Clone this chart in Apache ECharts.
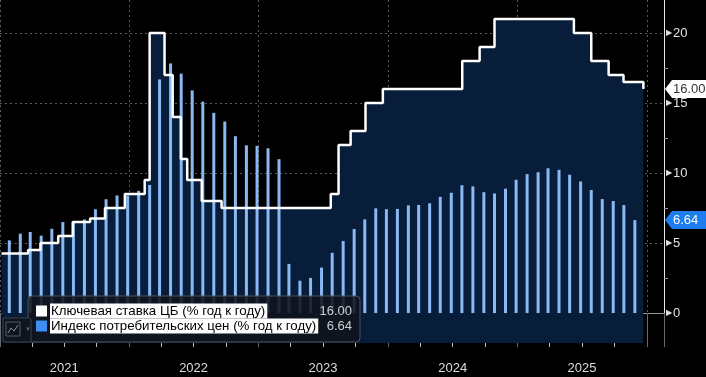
<!DOCTYPE html>
<html>
<head>
<meta charset="utf-8">
<script src="https://cdn.jsdelivr.net/npm/echarts@6/dist/echarts.min.js"></script>
<style>
html, body { margin: 0; padding: 0; background: #000; }
#chart { width: 706px; height: 377px; }
</style>
</head>
<body>
<div id="chart"></div>
<script>
// CPI, % y/y, monthly from Jan 2021
var cpiStartYear = 2021;
var cpiValues = [
  5.19, 5.67, 5.79, 5.53, 6.02, 6.50, 6.46, 6.68, 7.41, 8.13, 8.40, 8.39,
  8.73, 9.15, 16.69, 17.83, 17.10, 15.90, 15.10, 14.30, 13.68, 12.63, 11.98, 11.94,
  11.77, 10.99, 3.51, 2.31, 2.51, 3.25, 4.30, 5.15, 6.00, 6.69, 7.48, 7.42,
  7.44, 7.69, 7.72, 7.84, 8.30, 8.59, 9.13, 9.05, 8.63, 8.54, 8.88, 9.52,
  9.92, 10.06, 10.34, 10.23, 9.88, 9.40, 8.79, 8.14, 8.00, 7.71, 6.64
];
// key rate decisions
var rateDates = [
  '2021-01-06', '2021-03-22', '2021-04-26', '2021-06-15', '2021-07-26', '2021-09-13',
  '2021-10-25', '2021-12-20', '2022-02-14', '2022-02-28', '2022-04-11', '2022-05-04',
  '2022-05-27', '2022-06-14', '2022-07-25', '2022-09-19', '2023-07-24', '2023-08-15',
  '2023-09-18', '2023-10-30', '2023-12-18', '2024-07-29', '2024-09-16', '2024-10-28',
  '2025-06-09', '2025-07-28', '2025-09-15', '2025-10-27', '2025-12-22'
];
var rateValues = [
  4.25, 4.50, 5.00, 5.50, 6.50, 6.75,
  7.50, 8.50, 9.50, 20.00, 17.00, 14.00,
  11.00, 9.50, 8.00, 7.50, 8.50, 12.00,
  13.00, 15.00, 16.00, 18.00, 19.00, 21.00,
  20.00, 18.00, 17.00, 16.50, 16.00
];
var yearLabels = ['2021', '2022', '2023', '2024', '2025'];
var yTicks = [0, 5, 10, 15, 20];
var legendNames = ['Ключевая ставка ЦБ (% год к году)', 'Индекс потребительских цен (% год к году)'];

var FONT = 'Liberation Sans';
var AREA = '#071d3a';
var BAR = '#8ab8f2';
var TAGBLUE = '#1c7ef0';

function parseDate(s) {
  var p = s.split('-');
  return new Date(+p[0], +p[1] - 1, +p[2]).getTime();
}

var cpiData = cpiValues.map(function (v, i) {
  return [new Date(cpiStartYear, i, 28).getTime(), v];
});
var rateData = rateDates.map(function (d, i) {
  return [parseDate(d), rateValues[i]];
});

var myChart = echarts.init(document.getElementById('chart'));
myChart.setOption({
  backgroundColor: '#000',
  animation: false,
  textStyle: { fontFamily: FONT },
  grid: { left: 0, right: 42, top: 0, bottom: 34 },
  xAxis: {
    type: 'time',
    min: parseDate('2021-01-06'),
    max: parseDate('2026-02-14'),
    minInterval: 365 * 864e5,
    maxInterval: 366 * 864e5,
    axisLine: { show: true, lineStyle: { color: '#9a9a9a', width: 1 } },
    axisTick: { show: true, length: 34, lineStyle: { color: '#6a6a6a' } },
    axisLabel: { show: false },
    splitLine: { show: true, lineStyle: { color: '#5a5a5a', type: [2, 3] } }
  },
  yAxis: {
    type: 'value',
    position: 'right',
    min: -2.14,
    max: 22.36,
    splitNumber: 5,
    axisLine: { show: true, lineStyle: { color: '#e8e8e8', width: 1 } },
    axisTick: { show: false },
    minorTick: { show: true, splitNumber: 2, length: 4, lineStyle: { color: '#999' } },
    showMinLabel: false,
    showMaxLabel: false,
    axisLabel: {
      margin: 2,
      color: '#e0e0e0',
      fontSize: 13,
      formatter: function (v) {
        return yTicks.indexOf(v) >= 0 ? '{t|▶}' + v : '';
      },
      rich: { t: { fontSize: 8, color: '#e0e0e0', padding: [0, 1, 0, 0] } }
    },
    splitLine: {
      show: true,
      showMinLine: false,
      showMaxLine: false,
      lineStyle: { color: '#5a5a5a', type: [2, 3] }
    }
  },
  series: [
    {
      name: 'area',
      type: 'line',
      step: 'end',
      data: rateData,
      symbol: 'none',
      lineStyle: { width: 0, opacity: 0 },
      areaStyle: { color: AREA, opacity: 1, origin: 'start' },
      z: 1
    },
    {
      name: legendNames[1],
      type: 'bar',
      data: cpiData,
      barWidth: 3,
      itemStyle: { color: BAR },
      z: 2
    },
    {
      name: legendNames[0],
      type: 'line',
      step: 'end',
      data: rateData,
      symbol: 'none',
      lineStyle: { color: '#fff', width: 2.5 },
      z: 3
    }
  ]
});

// overlays placed through the chart's own scales
var graphics = [];
var axisY = myChart.convertToPixel({ yAxisIndex: 0 }, -2.14);
yearLabels.forEach(function (y) {
  var px = myChart.convertToPixel({ xAxisIndex: 0 }, new Date(+y, 6, 2).getTime());
  graphics.push({
    type: 'text', x: px, y: 368, z: 10,
    style: { text: y, fill: '#dcdcdc', font: '13px ' + FONT, textAlign: 'center', textVerticalAlign: 'middle' }
  });
  // quarter ticks
  [3, 6, 9].forEach(function (m) {
    var qx = Math.round(myChart.convertToPixel({ xAxisIndex: 0 }, new Date(+y, m, 1).getTime())) + 0.5;
    graphics.push({
      type: 'line', z: 10,
      shape: { x1: qx, y1: axisY, x2: qx, y2: axisY + 4 },
      style: { stroke: '#bbb', lineWidth: 1 }
    });
  });
});

function tag(value, text, bg, fg) {
  var cy = myChart.convertToPixel({ yAxisIndex: 0 }, value);
  var tip = 665;
  graphics.push({
    type: 'polygon', z: 20,
    shape: { points: [[tip, cy], [tip + 7, cy - 9], [706, cy - 9], [706, cy + 9], [tip + 7, cy + 9]] },
    style: { fill: bg }
  });
  graphics.push({
    type: 'text', x: 673, y: cy, z: 21,
    style: { text: text, fill: fg, font: '13px ' + FONT, textVerticalAlign: 'middle' }
  });
}
var lastRate = rateValues[rateValues.length - 1];
var lastCpi = cpiValues[cpiValues.length - 1];
tag(lastRate, lastRate.toFixed(2), '#fff', '#333');
tag(lastCpi, lastCpi.toFixed(2), TAGBLUE, '#fff');

// legend box
graphics.push({
  type: 'rect', z: 30,
  shape: { x: 28, y: 296, width: 332, height: 46, r: 4 },
  style: { fill: 'rgba(16,20,28,0.88)', stroke: '#4c525c', lineWidth: 1 }
});
graphics.push({
  type: 'rect', z: 30,
  shape: { x: 3, y: 318, width: 28, height: 24, r: 2 },
  style: { fill: 'rgba(16,20,28,0.95)', stroke: '#3c424c', lineWidth: 1 }
});
graphics.push({
  type: 'rect', z: 31,
  shape: { x: 6, y: 322, width: 14, height: 14 },
  style: { fill: 'none', stroke: '#555c66', lineWidth: 1 }
});
graphics.push({
  type: 'polyline', z: 31,
  shape: { points: [[8, 333], [11, 328], [14, 331], [18, 325]] },
  style: { stroke: '#8a929c', lineWidth: 1, fill: 'none' }
});
graphics.push({
  type: 'text', x: 28, y: 329, z: 31,
  style: { text: '▼', fill: '#5a606a', font: '6px ' + FONT, textAlign: 'center', textVerticalAlign: 'middle' }
});
var rows = [
  { name: legendNames[0], color: '#fff', value: lastRate.toFixed(2), cy: 311 },
  { name: legendNames[1], color: '#3d8ff2', value: lastCpi.toFixed(2), cy: 326 }
];
rows.forEach(function (r) {
  graphics.push({
    type: 'rect', z: 32,
    shape: { x: 36, y: r.cy - 5.5, width: 11, height: 11 },
    style: { fill: r.color }
  });
  graphics.push({
    type: 'text', x: 50, y: r.cy, z: 32,
    style: {
      text: r.name, fill: '#000', font: '13.3px ' + FONT, textVerticalAlign: 'middle',
      backgroundColor: '#fff', padding: [1, 2, 1, 1]
    }
  });
  graphics.push({
    type: 'text', x: 352, y: r.cy, z: 32,
    style: { text: r.value, fill: '#cfcfcf', font: '13px ' + FONT, textAlign: 'right', textVerticalAlign: 'middle' }
  });
});

myChart.setOption({ graphic: graphics });
</script>
</body>
</html>
